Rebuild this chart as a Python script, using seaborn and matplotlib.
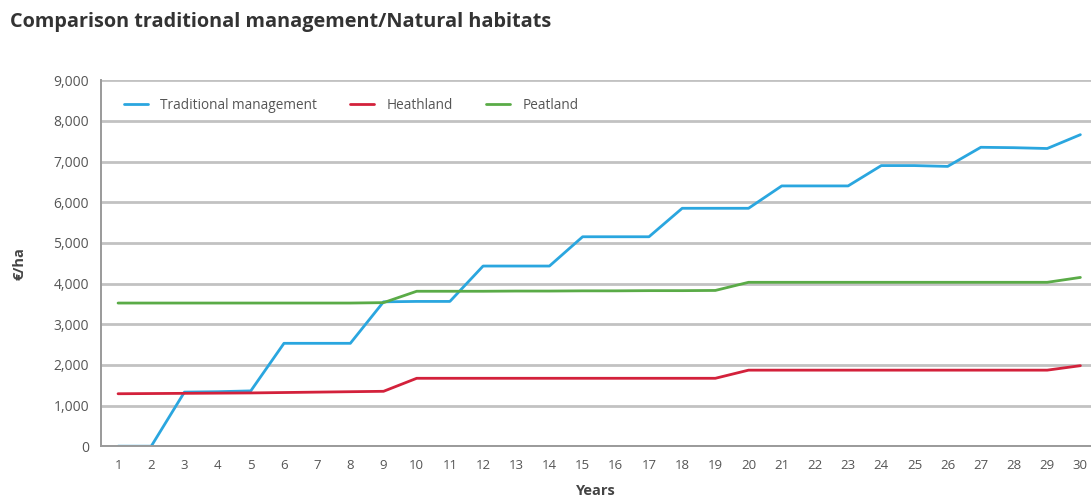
import matplotlib
matplotlib.use("Agg")
import matplotlib.pyplot as plt
from matplotlib.ticker import FuncFormatter, MultipleLocator
import seaborn as sns
import pandas as pd

years = list(range(1, 31))

traditional = [0, 0, 1330, 1340, 1360, 2530, 2530, 2530, 3550, 3560,
               3560, 4430, 4430, 4430, 5150, 5150, 5150, 5850, 5850, 5850,
               6400, 6400, 6400, 6900, 6900, 6880, 7350, 7340, 7320, 7660]
heathland = [1290, 1295, 1300, 1305, 1310, 1320, 1330, 1340, 1350, 1670,
             1670, 1670, 1670, 1670, 1670, 1670, 1670, 1670, 1670, 1870,
             1870, 1870, 1870, 1870, 1870, 1870, 1870, 1870, 1870, 1980]
peatland = [3520, 3520, 3520, 3520, 3520, 3520, 3520, 3520, 3530, 3810,
            3810, 3810, 3815, 3815, 3820, 3820, 3825, 3825, 3830, 4030,
            4030, 4030, 4030, 4030, 4030, 4030, 4030, 4030, 4030, 4150]

series_names = ["Traditional management", "Heathland", "Peatland"]
colors = ["#2aa6df", "#d3213b", "#5aab47"]

df = pd.concat([
    pd.DataFrame({"year": years, "value": vals, "series": name})
    for name, vals in zip(series_names, [traditional, heathland, peatland])
])

sns.set_style("white")
plt.rcParams['font.family'] = ['Open Sans', 'DejaVu Sans']

fig = plt.figure(figsize=(10.91, 4.98), dpi=100)
ax = fig.add_axes([0.093, 0.104, 0.907, 0.735])

sns.lineplot(data=df, x="year", y="value", hue="series", hue_order=series_names,
             palette=colors, linewidth=2.0, ax=ax)

ax.set_xlim(0.5, 30.32)
ax.set_ylim(0, 9000)
ax.set_xticks(years)
ax.xaxis.set_minor_locator(MultipleLocator(1, offset=0.5))
ax.yaxis.set_major_locator(MultipleLocator(1000))
ax.yaxis.set_major_formatter(FuncFormatter(lambda v, p: f"{int(v):,}"))

ax.grid(axis="y", color="#c2c2c2", linewidth=2.0)
ax.set_axisbelow(True)
for s in ["top", "right"]:
    ax.spines[s].set_visible(False)
for s in ["left", "bottom"]:
    ax.spines[s].set_color("#9a9a9a")
    ax.spines[s].set_linewidth(1.4)

ax.tick_params(axis="x", which="major", length=0, pad=9, labelsize=9.5, labelcolor="#555555")
ax.tick_params(axis="x", which="minor", length=5, width=1.2, color="#9a9a9a", direction="out")
ax.tick_params(axis="y", which="major", length=5, width=1.2, color="#9a9a9a", pad=4,
               labelsize=10, labelcolor="#555555")

ax.set_xlabel("Years", fontsize=10.5, fontweight="bold", color="#444444", labelpad=9)
ax.set_ylabel("€/ha", fontsize=10.5, fontweight="bold", color="#444444", labelpad=19)

leg = ax.legend(loc="upper left", bbox_to_anchor=(0.01, 0.985), ncol=3, frameon=False,
                fontsize=9.8, handlelength=1.8, columnspacing=2.4, handletextpad=0.9)
for t in leg.get_texts():
    t.set_color("#555555")

fig.text(0.009, 0.955, "Comparison traditional management/Natural habitats",
         fontsize=14.3, fontweight="bold", color="#333333", va="center", ha="left")

fig.savefig("out.png", dpi=100, facecolor="white")
